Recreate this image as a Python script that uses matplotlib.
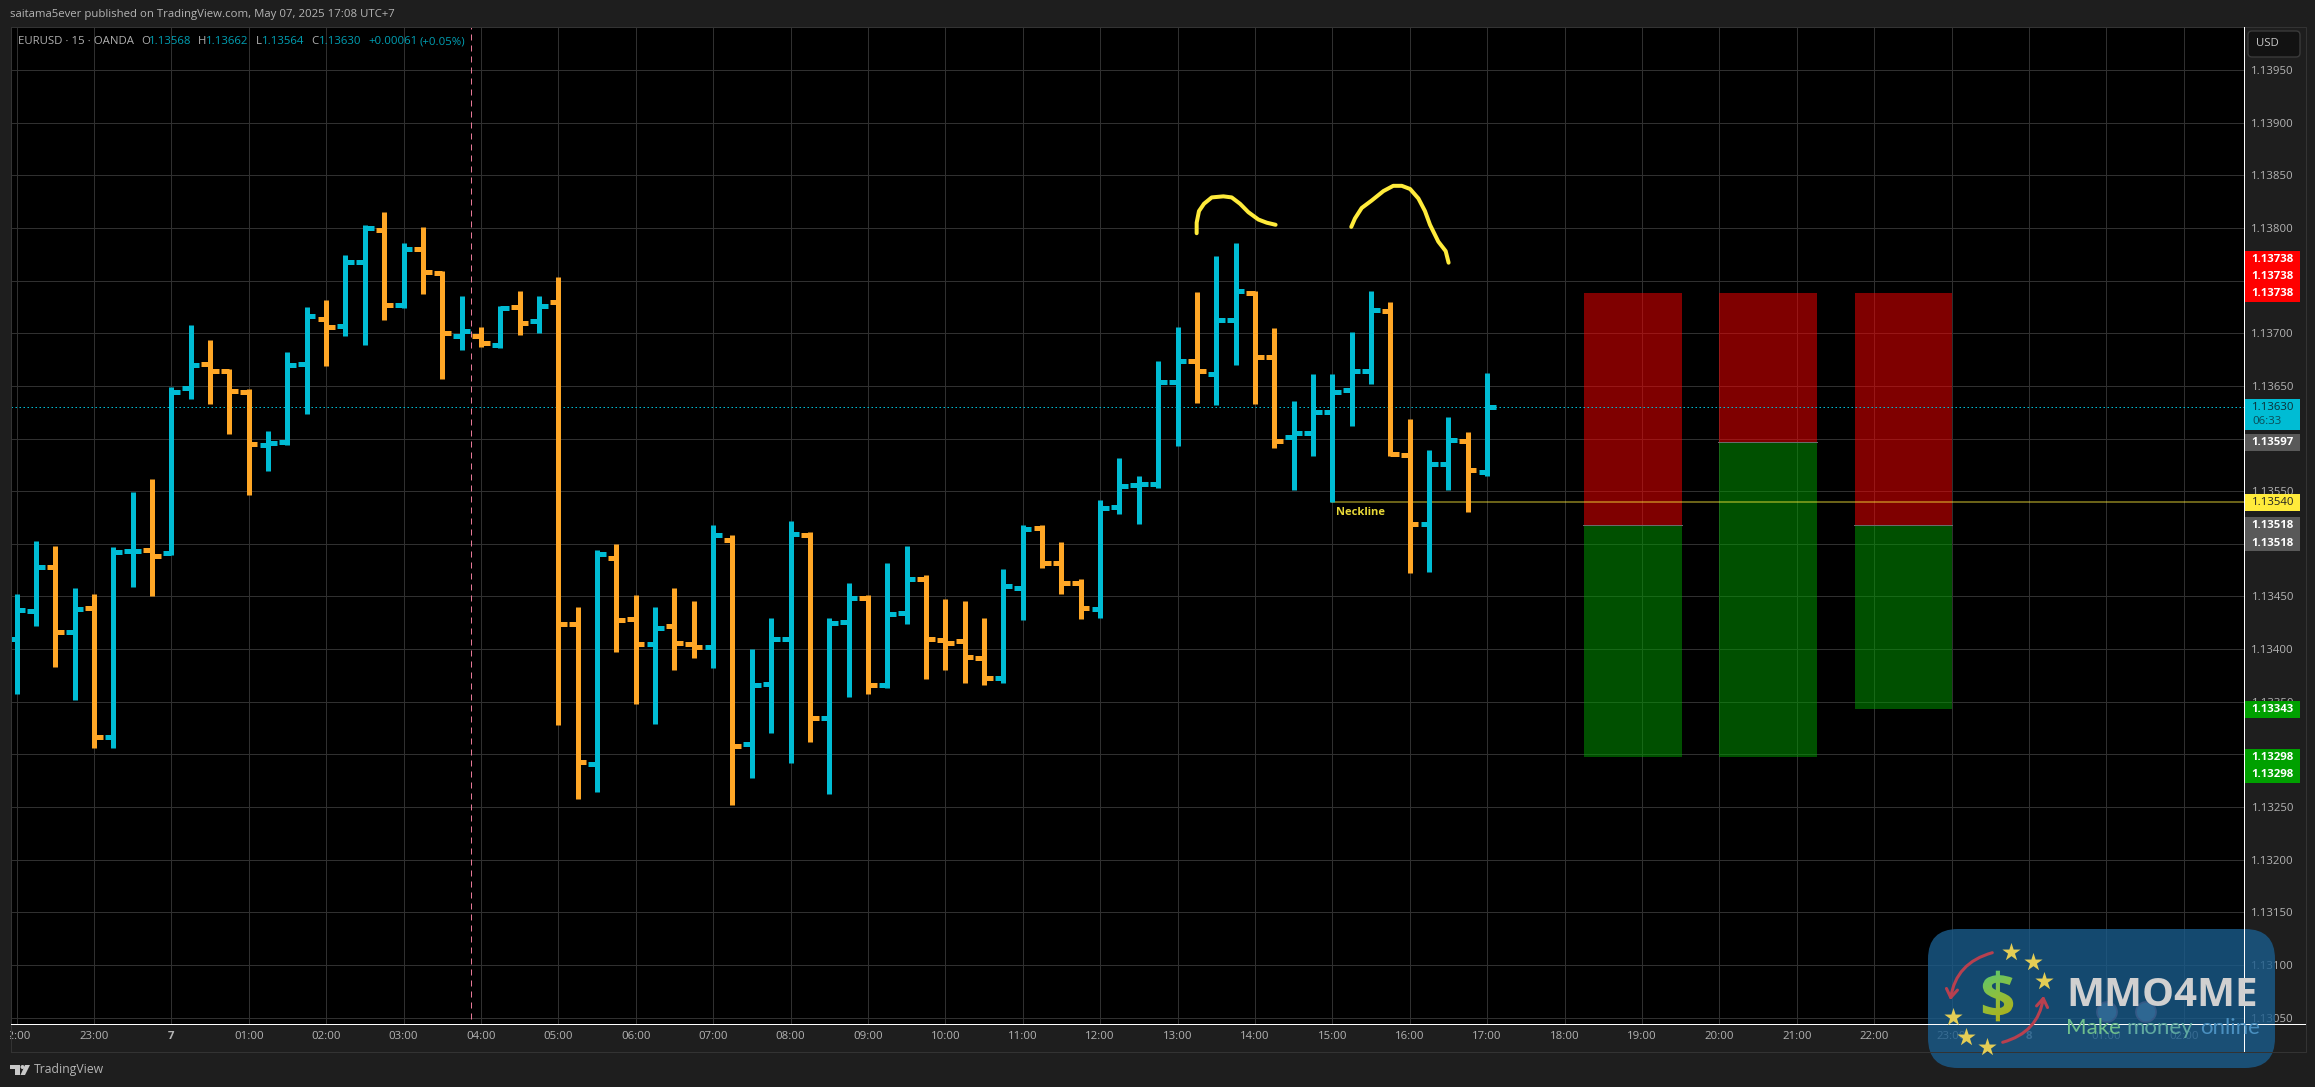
"""
EURUSD 15m bar chart with double top sketch and three risk/reward boxes
"""
import numpy as np

import matplotlib

matplotlib.use("Agg")
import matplotlib.pyplot as plt  # noqa:E402
from matplotlib.colors import LinearSegmentedColormap  # noqa:E402
from matplotlib.patches import (  # noqa:E402
    Circle,
    FancyArrowPatch,
    FancyBboxPatch,
    PathPatch,
    Polygon,
    Rectangle,
)
from matplotlib.textpath import TextPath  # noqa:E402
from matplotlib.font_manager import FontProperties  # noqa:E402
from matplotlib.transforms import Affine2D  # noqa:E402

plt.rcParams["font.family"] = ["Open Sans", "DejaVu Sans"]

# OHLC, one value per 15 minute bar starting at 22:00
opens = [
    1.13410, 1.13436, 1.13478, 1.13416, 1.13439, 1.13317, 1.13493, 1.13494,
    1.13491, 1.13648, 1.13671, 1.13664, 1.13644, 1.13594, 1.13597, 1.13671,
    1.13714, 1.13707, 1.13768, 1.13798, 1.13727, 1.13780, 1.13757, 1.13697,
    1.13697, 1.13689, 1.13725, 1.13712, 1.13730, 1.13424, 1.13291, 1.13487,
    1.13429, 1.13405, 1.13422, 1.13405, 1.13402, 1.13504, 1.13310, 1.13367,
    1.13410, 1.13508, 1.13335, 1.13426, 1.13449, 1.13366, 1.13434, 1.13467,
    1.13409, 1.13408, 1.13392, 1.13373, 1.13458, 1.13515, 1.13482, 1.13463,
    1.13438, 1.13535, 1.13556, 1.13557, 1.13654, 1.13674, 1.13661, 1.13713,
    1.13738, 1.13677, 1.13601, 1.13605, 1.13625, 1.13646, 1.13664, 1.13721,
    1.13584, 1.13519, 1.13576, 1.13598, 1.13568,
]
highs = [
    1.13452, 1.13503, 1.13498, 1.13458, 1.13452, 1.13497, 1.13549, 1.13562,
    1.13649, 1.13708, 1.13694, 1.13666, 1.13647, 1.13607, 1.13682, 1.13725,
    1.13732, 1.13774, 1.13803, 1.13815, 1.13786, 1.13801, 1.13759, 1.13735,
    1.13706, 1.13726, 1.13740, 1.13735, 1.13753, 1.13440, 1.13494, 1.13500,
    1.13451, 1.13440, 1.13458, 1.13446, 1.13518, 1.13508, 1.13400, 1.13430,
    1.13522, 1.13511, 1.13430, 1.13463, 1.13451, 1.13482, 1.13498, 1.13470,
    1.13448, 1.13446, 1.13430, 1.13476, 1.13518, 1.13518, 1.13502, 1.13467,
    1.13542, 1.13582, 1.13564, 1.13674, 1.13706, 1.13739, 1.13773, 1.13786,
    1.13740, 1.13705, 1.13636, 1.13661, 1.13661, 1.13701, 1.13740, 1.13730,
    1.13619, 1.13589, 1.13620, 1.13606, 1.13662,
]
lows = [
    1.13357, 1.13422, 1.13383, 1.13352, 1.13306, 1.13306, 1.13459, 1.13450,
    1.13489, 1.13638, 1.13633, 1.13604, 1.13546, 1.13569, 1.13594, 1.13623,
    1.13669, 1.13697, 1.13689, 1.13713, 1.13724, 1.13737, 1.13657, 1.13684,
    1.13687, 1.13686, 1.13698, 1.13700, 1.13328, 1.13258, 1.13264, 1.13397,
    1.13348, 1.13329, 1.13380, 1.13392, 1.13382, 1.13252, 1.13278, 1.13320,
    1.13292, 1.13312, 1.13262, 1.13355, 1.13357, 1.13363, 1.13424, 1.13372,
    1.13380, 1.13368, 1.13366, 1.13368, 1.13428, 1.13477, 1.13452, 1.13429,
    1.13430, 1.13528, 1.13519, 1.13553, 1.13593, 1.13634, 1.13632, 1.13670,
    1.13633, 1.13591, 1.13551, 1.13583, 1.13540, 1.13612, 1.13652, 1.13583,
    1.13472, 1.13473, 1.13551, 1.13530, 1.13564,
]
closes = [
    1.13437, 1.13478, 1.13416, 1.13438, 1.13317, 1.13492, 1.13493, 1.13488,
    1.13644, 1.13670, 1.13664, 1.13645, 1.13595, 1.13596, 1.13670, 1.13716,
    1.13706, 1.13768, 1.13800, 1.13727, 1.13780, 1.13758, 1.13700, 1.13702,
    1.13691, 1.13724, 1.13710, 1.13726, 1.13424, 1.13293, 1.13490, 1.13428,
    1.13405, 1.13420, 1.13406, 1.13402, 1.13508, 1.13308, 1.13366, 1.13410,
    1.13509, 1.13335, 1.13425, 1.13449, 1.13366, 1.13433, 1.13467, 1.13410,
    1.13406, 1.13393, 1.13373, 1.13460, 1.13514, 1.13482, 1.13463, 1.13439,
    1.13534, 1.13555, 1.13557, 1.13654, 1.13674, 1.13664, 1.13713, 1.13740,
    1.13677, 1.13598, 1.13605, 1.13625, 1.13644, 1.13664, 1.13722, 1.13585,
    1.13519, 1.13576, 1.13599, 1.13570, 1.13630,
]

price_ticks = [
    1.13050, 1.13100, 1.13150, 1.13200, 1.13250, 1.13300, 1.13350, 1.13400,
    1.13450, 1.13500, 1.13550, 1.13600, 1.13650, 1.13700, 1.13750, 1.13800,
    1.13850, 1.13900, 1.13950,
]
# these sit fully behind the price tags, only their grid lines show
hidden_price_labels = [1.13300, 1.13500, 1.13600, 1.13750]
time_positions = list(range(0, 116, 4))
time_labels = [
    "22:00", "23:00", "7", "01:00", "02:00", "03:00", "04:00", "05:00",
    "06:00", "07:00", "08:00", "09:00", "10:00", "11:00", "12:00", "13:00",
    "14:00", "15:00", "16:00", "17:00", "18:00", "19:00", "20:00", "21:00",
    "22:00", "23:00", "8", "01:00", "02:00",
]

# risk/reward boxes: left bar, right bar, stop, entry, target
box_left = [81.0, 88.0, 95.0]
box_right = [86.05, 93.05, 100.05]
box_stop = [1.13738, 1.13738, 1.13738]
box_entry = [1.13518, 1.13597, 1.13518]
box_target = [1.13298, 1.13298, 1.13343]

last_price = 1.13630
neckline_price = 1.13540
neckline_start = 68.0
crosshair_bar = 23.51

# freehand yellow curves over the two tops
top1_x = [60.99, 60.99, 61.11, 61.37, 61.77, 62.37, 62.80, 63.23, 63.66, 64.18, 64.61, 65.07]
top1_y = [1.13795, 1.13805, 1.13816, 1.13823, 1.13829, 1.13830, 1.13829, 1.13823, 1.13815, 1.13808, 1.13805, 1.13803]
top2_x = [68.98, 69.17, 69.52, 70.03, 70.64, 71.15, 71.59, 72.02, 72.45, 72.79, 73.05, 73.48, 73.86, 74.01]
top2_y = [1.13801, 1.13809, 1.13819, 1.13826, 1.13835, 1.13840, 1.13840, 1.13837, 1.13828, 1.13816, 1.13803, 1.13787, 1.13778, 1.13767]

BLUE = "#00bcd4"
ORANGE = "#ffa726"
W, H = 2315, 1087
PX = 0.72  # one pixel in points at dpi 100


def draw_chart(fig):
    # pane: x 10.7-2243.5, y 27-1024 in picture pixels
    ax = fig.add_axes([10.7 / W, 1 - 1024 / H, (2243.5 - 10.7) / W, (1024 - 27) / H])
    ax.set_facecolor("black")
    ax.set_xlim((10.7 - 16.5) / 19.35, (2243.5 - 16.5) / 19.35)
    ax.set_ylim(1.13950 - (1024 - 70) / 52.65 * 0.0005, 1.13950 + 43 / 52.65 * 0.0005)

    ax.set_xticks(time_positions)
    ax.set_xticklabels(time_labels)
    ax.set_yticks(price_ticks)
    ax.set_yticklabels(["" if p in hidden_price_labels else f"{p:.5f}" for p in price_ticks])
    ax.yaxis.tick_right()
    ax.tick_params(axis="both", length=0, colors="#b4b4b4", labelsize=8.2)
    ax.tick_params(axis="x", pad=5)
    ax.tick_params(axis="y", pad=36.4)
    for label in ax.get_yticklabels():
        label.set_ha("right")
    for label in ax.get_xticklabels():
        if label.get_text() in ("7", "8"):
            label.set_fontweight("bold")
    ax.grid(True, color="#303030", linewidth=PX)
    ax.set_axisbelow(True)
    for spine in ax.spines.values():
        spine.set_visible(False)

    # risk/reward boxes
    for left, right, stop, entry, target in zip(
        box_left, box_right, box_stop, box_entry, box_target
    ):
        ax.fill_between([left, right], entry, stop, color="#ff0000", alpha=0.5, lw=0, zorder=1.5)
        ax.fill_between([left, right], target, entry, color="#00a000", alpha=0.5, lw=0, zorder=1.5)
        ax.plot([left - 0.05, right], [entry, entry], color="#6a6a6a", lw=PX, zorder=1.6)

    ax.axhline(last_price, color=BLUE, lw=PX, ls=(0, (1.5, 2.5)), zorder=1.7)
    ax.axvline(crosshair_bar, color="#e87a98", lw=PX, ls=(0, (6, 5)), ymin=0.005, zorder=1.7)
    ax.plot(
        [neckline_start, ax.get_xlim()[1]],
        [neckline_price, neckline_price],
        color="#ffeb3b", alpha=0.42, lw=2 * PX, zorder=1.8,
    )

    # OHLC bars
    bars = np.arange(len(opens))
    o, h, l, c = map(np.array, (opens, highs, lows, closes))
    colors = np.where(c >= o, BLUE, ORANGE)
    ax.vlines(bars, l, h, colors=colors, lw=5 * PX, capstyle="butt", zorder=2)
    ax.hlines(o, bars - 0.44, bars, colors=colors, lw=5 * PX, capstyle="butt", zorder=2)
    ax.hlines(c, bars, bars + 0.45, colors=colors, lw=5 * PX, capstyle="butt", zorder=2)

    # double top sketch
    for xs, ys in ((top1_x, top1_y), (top2_x, top2_y)):
        ax.plot(xs, ys, color="#ffeb3b", lw=4 * PX, solid_joinstyle="round",
                solid_capstyle="round", zorder=3)
    ax.text(neckline_start + 0.2, 1.13530, "Neckline", color="#e8d838",
            fontsize=8, fontweight="bold", va="center", ha="left", zorder=3)
    return ax


def tag(ui, top, bottom, color, rows):
    # price label stack in the right axis
    ui.add_patch(Rectangle((2244, top), 56, bottom - top, fc=color, ec="none"))
    for y, text, text_color, weight in rows:
        ui.text(2294, y, text, color=text_color, fontsize=8.2, fontweight=weight,
                ha="right", va="center")


def draw_chrome(fig):
    ui = fig.add_axes([0, 0, 1, 1], zorder=5)
    ui.set_xlim(0, W)
    ui.set_ylim(H, 0)
    ui.axis("off")
    ui.patch.set_alpha(0)

    # outer strips and pane borders
    ui.add_patch(Rectangle((0, 27), 10.0, 1030, fc="#1e1e1e", ec="none"))
    ui.plot([10.5, 10.5], [27, 1051.5], color="#333333", lw=PX)
    ui.plot([10.5, 2305.5, 2305.5, 10.5], [26.5, 26.5, 1051.5, 1051.5], color="#333333", lw=PX)
    ui.plot([2243.5, 2243.5], [27, 1051], color="white", lw=PX)
    ui.plot([10.7, 2305], [1024, 1024], color="white", lw=PX)

    # header
    ui.text(10, 15, "saitama5ever published on TradingView.com, May 07, 2025 17:08 UTC+7",
            color="#b4b4b4", fontsize=8.2, va="center")
    grey, cyan = "#b0b0b0", "#00a0b4"
    legend_items = [
        (18, "EURUSD · 15 · OANDA", grey), (141, "O", grey), (149, "1.13568", cyan),
        (198, "H", grey), (206, "1.13662", cyan), (256, "L", grey), (262, "1.13564", cyan),
        (311, "C", grey), (319, "1.13630", cyan), (368, "+0.00061", cyan), (420, "(+0.05%)", cyan),
    ]
    for x, text, color in legend_items:
        ui.text(x, 41.5, text, color=color, fontsize=8.2, va="center")

    # footer logo
    ui.add_patch(Polygon([(10, 1065), (20, 1065), (20, 1075), (15, 1075), (15, 1069), (10, 1069)],
                         fc="#c8c8c8", ec="none"))
    ui.add_patch(Circle((22.5, 1067), 2, fc="#c8c8c8", ec="none"))
    ui.add_patch(Polygon([(25, 1065), (30, 1065), (25, 1075), (20.5, 1075)], fc="#c8c8c8", ec="none"))
    ui.text(33.5, 1069.5, "TradingView", color="#b4b4b4", fontsize=8.8, va="center")

    # USD button
    ui.add_patch(FancyBboxPatch((2250, 33), 48, 22, boxstyle="round,pad=2,rounding_size=4",
                                fc="#121212", ec="#3a3a3a", lw=1.0))
    ui.text(2256, 44, "USD", color="#c8c8c8", fontsize=8.2, va="center")

    # price labels
    w = "white"
    tag(ui, 251, 302, "#ff0000", [(259.6, "1.13738", w, "bold"), (276.8, "1.13738", w, "bold"),
                                  (293.6, "1.13738", w, "bold")])
    tag(ui, 399, 430, BLUE, [(407.5, "1.13630", "#0b2f36", "normal")])
    ui.text(2252, 421.5, "06:33", color="#0b4a55", fontsize=8.2, va="center")
    tag(ui, 434, 451, "#595959", [(442.5, "1.13597", w, "bold")])
    tag(ui, 494, 511, "#ffeb3b", [(502.5, "1.13540", "#222222", "normal")])
    tag(ui, 517, 551, "#595959", [(525.7, "1.13518", w, "bold"), (543, "1.13518", w, "bold")])
    tag(ui, 701, 718, "#00a000", [(709.7, "1.13343", w, "bold")])
    tag(ui, 749, 783, "#00a000", [(757.6, "1.13298", w, "bold"), (774.5, "1.13298", w, "bold")])
    return ui


def draw_watermark(ui):
    # event flags sit under the watermark
    for x in (2107, 2146):
        ui.add_patch(Circle((x, 1012), 10, fc="#7e93ab", ec="#a05070", lw=1.2))
    ui.add_patch(FancyBboxPatch((1958, 959), 287, 79, boxstyle="round,pad=30,rounding_size=30",
                                fc=(0.10, 0.36, 0.55), ec="none", alpha=0.8))

    star_x = [2011, 2033, 2044, 1953, 1966, 1987]
    star_y = [952, 962, 981, 1017, 1037, 1047]
    ui.scatter(star_x, star_y, marker="*", s=190, color="#e4cd55", linewidths=0, zorder=6)

    red = "#b8404f"
    ui.add_patch(FancyArrowPatch((1995, 952), (1950, 1003), connectionstyle="arc3,rad=0.35",
                                 arrowstyle="->,head_length=6,head_width=4", color=red, lw=2.2, zorder=6))
    ui.add_patch(FancyArrowPatch((2000, 1043), (2044, 993), connectionstyle="arc3,rad=0.35",
                                 arrowstyle="->,head_length=6,head_width=4", color=red, lw=2.2, zorder=6))

    # gradient dollar sign
    fp = FontProperties(family="Open Sans", weight="bold")
    path = TextPath((0, 0), "$", size=62, prop=fp)
    box = path.get_extents()
    trans = Affine2D().translate(-box.x0 - box.width / 2, -box.y0 - box.height / 2).scale(1, -1).translate(1998, 996)
    clip = PathPatch(trans.transform_path(path), transform=ui.transData, fc="none", ec="none")
    ui.add_patch(clip)
    cmap = LinearSegmentedColormap.from_list("dollar", ["#48c880", "#8cc040", "#c0a808"])
    grad = np.linspace(0, 1, 64).reshape(-1, 1) + np.linspace(0, 0.4, 64).reshape(1, -1)
    img = ui.imshow(grad, extent=(1975, 2020, 1025, 965), cmap=cmap, aspect="auto", zorder=6)
    img.set_clip_path(clip)
    ui.set_xlim(0, W)
    ui.set_ylim(H, 0)

    ui.text(2066, 996, "MMO4ME", color="#d0d0d0", fontsize=29, fontweight="bold",
            family="Open Sans", va="center", ha="left", zorder=6)
    for x, word, color in ((2066, "Make", "#6fbf8c"), (2126, "money", "#5fa9a0"), (2200, "online", "#4a90c0")):
        ui.text(x, 1028, word, color=color, fontsize=16, family="Lato", va="center", ha="left", zorder=6)


def main():
    """
    Entry point for script
    """
    fig = plt.figure(figsize=(W / 100, H / 100), dpi=100, facecolor="#1e1e1e")
    draw_chart(fig)
    ui = draw_chrome(fig)
    draw_watermark(ui)
    fig.savefig("out.png", dpi=100, facecolor=fig.get_facecolor())
    plt.close(fig)


if __name__ == "__main__":
    main()
